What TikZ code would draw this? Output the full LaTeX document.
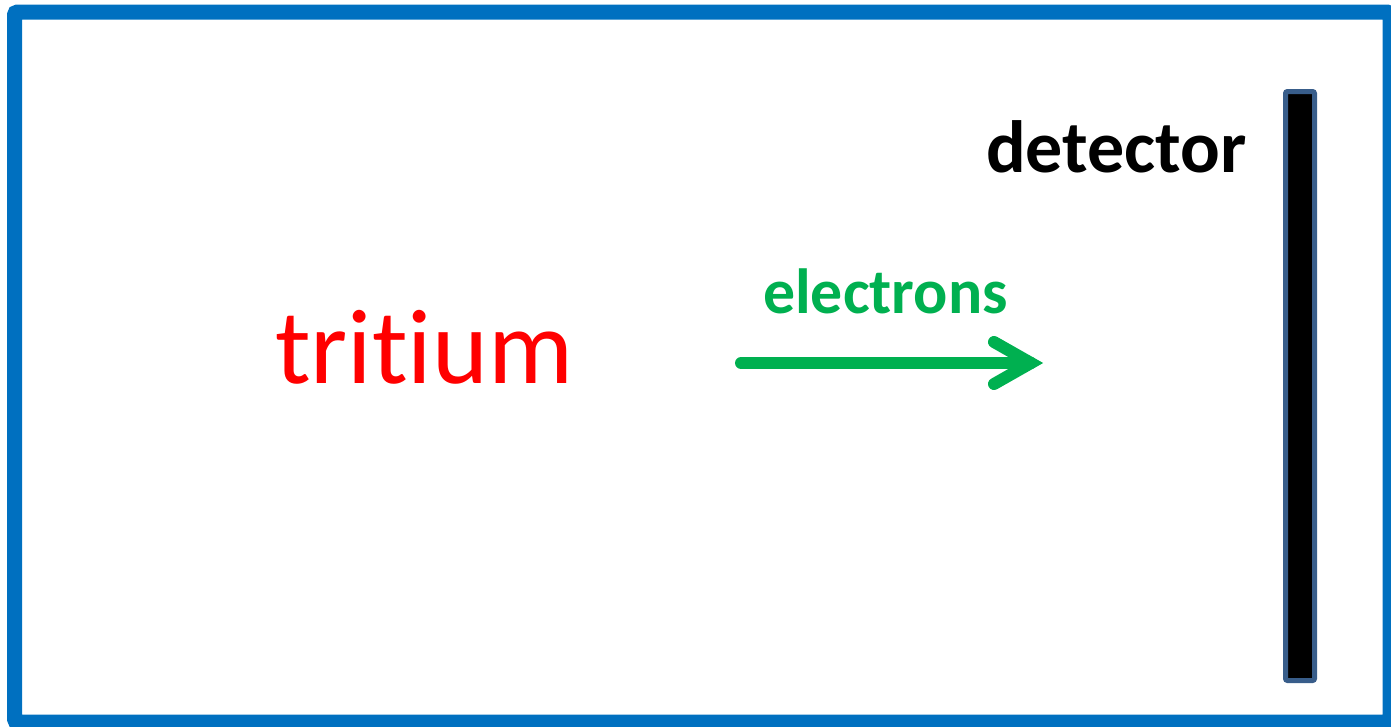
\documentclass[tikz,border=0pt]{standalone}
\usepackage{fontspec}
\setmainfont{Carlito}[Ligatures={NoCommon}]
\definecolor{frameblue}{HTML}{0070C0}
\definecolor{detborder}{HTML}{385D8A}
\definecolor{egreen}{HTML}{00B050}
\definecolor{tred}{HTML}{FF0000}
\tikzset{
  label text/.style={inner sep=0pt, anchor=base west},
  arrowline/.style={draw=egreen, line width=12pt},
}
\begin{document}
\begin{tikzpicture}[x=1pt,y=-1pt]
\useasboundingbox (0,0) rectangle (1391,726);
% frame
\draw[frameblue, line width=15pt, rounded corners=3pt] (14.5,12) rectangle (1390,722);
% detector
\node[draw=detborder, fill=black, line width=5pt, rounded corners=2pt, minimum width=29pt, minimum height=589pt, inner sep=0pt] (det) at (1300,386) {};
% texts
\node[label text, font=\fontsize{74}{80}\selectfont\bfseries] (dlabel) at (986,172) {detector};
\node[label text, font=\fontsize{63.8}{70}\selectfont\bfseries, text=egreen] (elabel) at (763,313) {electrons};
\node[label text, font=\fontsize{106.4}{112}\selectfont, text=tred] (tlabel) at (275,383) {tritium};
% arrow
\coordinate (a) at (741,363);
\coordinate (b) at (1031,363);
\draw[arrowline, line cap=round] (a) -- (b);
\draw[arrowline, line cap=round, line join=miter] ([xshift=-37pt,yshift=-21pt]b) -- (b) -- ([xshift=-37pt,yshift=21pt]b);
\end{tikzpicture}
\end{document}
